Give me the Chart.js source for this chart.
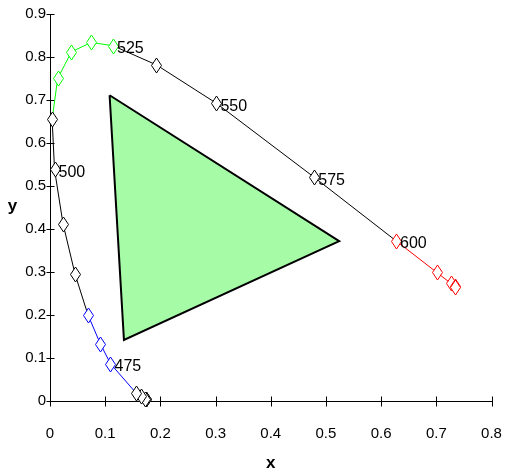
<!DOCTYPE html>
<html>
<head>
<meta charset="utf-8">
<script src="https://cdn.jsdelivr.net/npm/chart.js@4/dist/chart.umd.min.js"></script>
<style>
  html, body { margin: 0; padding: 0; background: #fff; }
  canvas { display: block; }
</style>
</head>
<body>
<canvas id="chart" width="510" height="473"></canvas>
<script>
// CIE 1931 spectral locus samples (wavelength in nm, chromaticity x / y)
const wavelengths = [380, 400, 420, 440, 450, 475, 480, 485, 490, 495, 500, 505,
                     510, 515, 520, 525, 535, 550, 575, 600, 625, 650, 675, 700];
const locusX = [0.1741, 0.1733, 0.1714, 0.1644, 0.1566, 0.1096, 0.0913, 0.0687, 0.0454, 0.0235, 0.0082, 0.0039,
                0.0139, 0.0389, 0.0743, 0.1142, 0.1929, 0.3016, 0.4788, 0.6270, 0.7006, 0.7260, 0.7334, 0.7347];
const locusY = [0.0050, 0.0048, 0.0051, 0.0109, 0.0177, 0.0868, 0.1327, 0.2007, 0.2950, 0.4127, 0.5384, 0.6548,
                0.7502, 0.8120, 0.8338, 0.8262, 0.7816, 0.6923, 0.5202, 0.3725, 0.2993, 0.2740, 0.2666, 0.2653];

// wavelengths annotated next to their markers
const labelledWavelengths = [475, 500, 525, 550, 575, 600];

// gamut triangle corners
const gamutX = [0.108, 0.524, 0.134];
const gamutY = [0.711, 0.372, 0.142];

// axis ticks
const xTicks = [0, 0.1, 0.2, 0.3, 0.4, 0.5, 0.6, 0.7, 0.8];
const yTicks = [0, 0.1, 0.2, 0.3, 0.4, 0.5, 0.6, 0.7, 0.8, 0.9];
const xTickLabels = ['0', '0.1', '0.2', '0.3', '0.4', '0.5', '0.6', '0.7', '0.8'];
const yTickLabels = ['0', '0.1', '0.2', '0.3', '0.4', '0.5', '0.6', '0.7', '0.8', '0.9'];

const FONT = '"Liberation Sans", Arial, Helvetica, sans-serif';
const BLACK = '#000000', BLUE = '#0000ff', GREEN = '#00ff00', RED = '#ff0000';

// colour band of a locus sample
function bandColour(wl) {
  if (wl >= 475 && wl <= 485) return BLUE;
  if (wl >= 510 && wl <= 525) return GREEN;
  if (wl >= 600) return RED;
  return BLACK;
}

// segment colour: blue/green sections take the colour of their end point,
// the red section starts at 600 nm
function segmentColour(i0, i1) {
  const c1 = bandColour(wavelengths[i1]);
  if (c1 === BLUE || c1 === GREEN) return c1;
  if (bandColour(wavelengths[i0]) === RED) return RED;
  return BLACK;
}

const locusData = wavelengths.map((wl, i) => ({ x: locusX[i], y: locusY[i] }));
const gamutData = gamutX.map((gx, i) => ({ x: gx, y: gamutY[i] }));
gamutData.push({ x: gamutX[0], y: gamutY[0] });

// crossing tick marks, tall diamond markers, wavelength labels and axis titles
const overlay = {
  id: 'overlay',
  beforeDatasetsDraw(chart) {
    const { ctx, scales: { x, y } } = chart;
    ctx.save();
    ctx.strokeStyle = '#000';
    ctx.lineWidth = 1;
    ctx.beginPath();
    const yAxisPx = Math.round(x.getPixelForValue(0)) + 0.5;
    const xAxisPx = Math.round(y.getPixelForValue(0)) + 0.5;
    xTicks.forEach(v => {
      const px = Math.round(x.getPixelForValue(v)) + 0.5;
      ctx.moveTo(px, xAxisPx - 5); ctx.lineTo(px, xAxisPx + 5);
    });
    yTicks.forEach(v => {
      const py = Math.round(y.getPixelForValue(v)) + 0.5;
      ctx.moveTo(yAxisPx - 4, py); ctx.lineTo(yAxisPx + 4, py);
    });
    ctx.stroke();
    ctx.restore();
  },
  afterDatasetsDraw(chart) {
    const { ctx, chartArea, scales: { x, y } } = chart;
    ctx.save();
    // markers on the locus points laid out by the chart
    const points = chart.getDatasetMeta(1).data;
    ctx.lineWidth = 1;
    points.forEach((pt, i) => {
      const cx = Math.round(pt.x) + 0.5, cy = Math.round(pt.y) + 0.5;
      ctx.beginPath();
      ctx.moveTo(cx, cy - 7.5);
      ctx.lineTo(cx + 5, cy);
      ctx.lineTo(cx, cy + 7.5);
      ctx.lineTo(cx - 5, cy);
      ctx.closePath();
      ctx.fillStyle = '#fff';
      ctx.fill();
      ctx.strokeStyle = bandColour(wavelengths[i]);
      ctx.stroke();
    });

    ctx.fillStyle = '#000';
    ctx.font = '16px ' + FONT;
    ctx.textAlign = 'left';
    ctx.textBaseline = 'middle';
    labelledWavelengths.forEach(wl => {
      const i = wavelengths.indexOf(wl);
      ctx.fillText(String(wl), x.getPixelForValue(locusX[i]) + 4, y.getPixelForValue(locusY[i]) + 3);
    });
    ctx.font = 'bold 17px ' + FONT;
    ctx.textAlign = 'center';
    ctx.textBaseline = 'alphabetic';
    ctx.fillText('x', (chartArea.left + chartArea.right) / 2, 468);
    ctx.fillText('y', 12.5, (chartArea.top + chartArea.bottom) / 2 + 3);
    ctx.restore();
  }
};

new Chart(document.getElementById('chart'), {
  type: 'scatter',
  data: {
    datasets: [
      {
        data: gamutData,
        showLine: true,
        fill: 'shape',
        backgroundColor: '#a6fba6',
        borderColor: '#000',
        borderWidth: 2,
        pointRadius: 0,
        tension: 0
      },
      {
        data: locusData,
        showLine: true,
        fill: false,
        borderWidth: 1,
        borderColor: BLACK,
        segment: { borderColor: c => segmentColour(c.p0DataIndex, c.p1DataIndex) },
        pointRadius: 0,
        tension: 0
      }
    ]
  },
  options: {
    responsive: false,
    animation: false,
    events: [],
    layout: { padding: { top: 14, right: 18.5, bottom: 0, left: 0 } },
    plugins: { legend: { display: false }, tooltip: { enabled: false } },
    scales: {
      x: {
        type: 'linear',
        min: 0, max: 0.8,
        afterBuildTicks: s => { s.ticks = xTicks.map(v => ({ value: v })); },
        afterFit: s => { s.height = 72; s.paddingLeft = 0; s.paddingRight = 0; },
        grid: { display: false, drawTicks: false },
        border: { display: true, color: '#000', width: 1 },
        ticks: {
          callback: (v, i) => xTickLabels[i],
          color: '#000',
          font: { family: FONT, size: 15 },
          padding: 24,
          maxRotation: 0,
          autoSkip: false
        }
      },
      y: {
        type: 'linear',
        min: 0, max: 0.9,
        afterBuildTicks: s => { s.ticks = yTicks.map(v => ({ value: v })); },
        afterFit: s => { s.width = 50; s.paddingTop = 0; s.paddingBottom = 0; },
        grid: { display: false, drawTicks: false },
        border: { display: true, color: '#000', width: 1 },
        ticks: {
          callback: (v, i) => yTickLabels[i],
          color: '#000',
          font: { family: FONT, size: 15 },
          padding: 4,
          autoSkip: false
        }
      }
    }
  },
  plugins: [overlay]
});
</script>
</body>
</html>
